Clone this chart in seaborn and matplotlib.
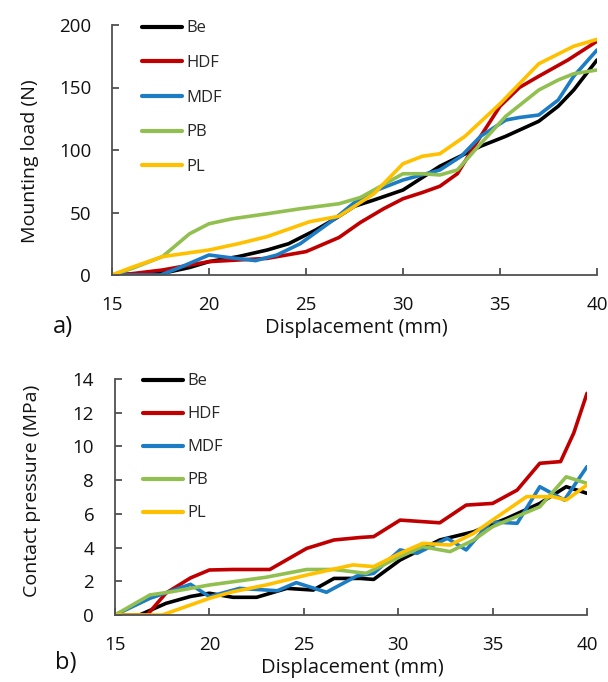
import matplotlib
matplotlib.use("Agg")
import matplotlib.pyplot as plt
import seaborn as sns
import pandas as pd

# ---------------- data ----------------
series_names = ["Be", "HDF", "MDF", "PB", "PL"]
colors = ["#000000", "#C00000", "#1C7CC4", "#92C050", "#FFC000"]

# a) Mounting load (N) vs displacement (mm)
load_be_x = [15, 16, 17, 17.8, 19, 20, 21.5, 23, 24.1, 25.5, 26.5, 27.5, 28.5, 30, 31.9, 34, 35.3, 37, 38, 38.8, 40]
load_be_y = [0, 0.5, 1, 2, 6, 10.7, 14.7, 20, 25, 36, 45, 55, 60, 68, 87, 103, 111, 123, 135, 148, 172]
load_hdf_x = [15, 16, 17.6, 20, 23, 25, 26.7, 27.8, 29, 30, 31, 31.9, 32.8, 34, 35, 36, 37, 38.5, 40]
load_hdf_y = [0, 1, 4, 10.7, 13.3, 18.7, 30, 42, 53, 61, 66, 71, 81, 111, 135, 150, 159, 172, 187]
load_mdf_x = [15, 16, 17.5, 18.5, 20, 21, 22.4, 23.5, 24.7, 26.4, 27.5, 28.5, 30, 31.9, 33, 34, 35.3, 36, 37, 38, 38.8, 40]
load_mdf_y = [0, 0, 0, 6, 16, 14, 11.5, 16, 25, 44, 58, 67, 76, 84, 95, 111, 124, 126, 128, 140, 159, 180]
load_pb_x = [15, 16, 17.6, 19, 20, 21.2, 23, 24.7, 26.7, 27.8, 28.5, 30, 31, 31.9, 32.8, 34, 35.3, 37, 38, 38.8, 40]
load_pb_y = [0, 5, 14.7, 33, 41, 45, 49, 53, 57, 62, 68, 81, 81, 80, 84, 105, 127, 148, 156, 161, 164]
load_pl_x = [15, 16, 17.6, 20, 21.5, 23, 25.2, 26.7, 28.5, 30, 31, 31.9, 33.2, 35, 37, 38.8, 40]
load_pl_y = [0, 6, 14.7, 20, 25, 30.7, 42.7, 47, 65, 89, 95, 97, 111, 137, 169, 183, 188.5]

# b) Contact pressure (MPa) vs displacement (mm)
pres_be_x = [15, 16.3, 17.7, 19, 20, 21.25, 22.5, 24.1, 25.5, 26.6, 28, 28.7, 30.1, 32.2, 34, 35.75, 37.5, 38.9, 40]
pres_be_y = [0, 0, 0.69, 1.1, 1.29, 1.05, 1.05, 1.58, 1.48, 2.17, 2.17, 2.11, 3.26, 4.45, 4.94, 5.73, 6.62, 7.61, 7.22]
pres_hdf_x = [15, 16.7, 17.7, 19, 20, 21.25, 23.2, 25.15, 26.6, 28, 28.7, 30.1, 32.2, 33.6, 35, 36.3, 37.5, 38.6, 39.3, 40]
pres_hdf_y = [0, 0, 1.3, 2.2, 2.67, 2.7, 2.7, 3.95, 4.45, 4.6, 4.65, 5.63, 5.47, 6.52, 6.62, 7.41, 9.0, 9.1, 10.8, 13.15]
pres_mdf_x = [15, 16.85, 19, 20, 21.6, 23.6, 24.6, 26.2, 27.8, 28.7, 30.1, 31, 32.6, 33.6, 34.9, 36.3, 37.5, 38.8, 40]
pres_mdf_y = [0, 0.99, 1.82, 1.09, 1.58, 1.44, 1.92, 1.35, 2.31, 2.47, 3.86, 3.66, 4.55, 3.86, 5.53, 5.44, 7.61, 6.82, 8.8]
pres_pb_x = [15, 16.85, 18, 20, 23, 25.15, 26.6, 28.3, 30.1, 31.3, 32.75, 34, 35, 37.5, 38.9, 40]
pres_pb_y = [0, 1.19, 1.38, 1.78, 2.24, 2.7, 2.7, 2.47, 3.46, 4.05, 3.76, 4.45, 5.24, 6.42, 8.2, 7.81]
pres_pl_x = [15, 17.5, 20, 21.25, 23, 25.15, 27.6, 28.7, 30.1, 31.3, 32.75, 34, 35, 36.8, 38.2, 38.9, 40]
pres_pl_y = [0, 0, 0.99, 1.38, 1.78, 2.37, 2.97, 2.87, 3.66, 4.25, 4.15, 4.85, 5.63, 7.02, 7.02, 6.82, 7.71]

x_ticks = [15, 20, 25, 30, 35, 40]
load_ticks = [0, 50, 100, 150, 200]
pres_ticks = [0, 2, 4, 6, 8, 10, 12, 14]


def long_df(pairs):
    frames = []
    for name, (xs, ys) in zip(series_names, pairs):
        frames.append(pd.DataFrame({"x": xs, "y": ys, "series": name}))
    return pd.concat(frames, ignore_index=True)


df_load = long_df([(load_be_x, load_be_y), (load_hdf_x, load_hdf_y), (load_mdf_x, load_mdf_y),
                   (load_pb_x, load_pb_y), (load_pl_x, load_pl_y)])
df_pres = long_df([(pres_be_x, pres_be_y), (pres_hdf_x, pres_hdf_y), (pres_mdf_x, pres_mdf_y),
                   (pres_pb_x, pres_pb_y), (pres_pl_x, pres_pl_y)])

sns.set_theme(style="ticks")
plt.rcParams["font.family"] = ["Open Sans", "DejaVu Sans"]
axis_col = "#505050"
text_col = "#111111"

W, H = 608, 682
fig = plt.figure(figsize=(W / 100, H / 100), dpi=100)


def make_ax(l, r, t, b):
    return fig.add_axes([l / W, 1 - b / H, (r - l) / W, (b - t) / H])


ax1 = make_ax(112, 597, 25, 275)
ax2 = make_ax(115, 587, 379, 615)

palette = dict(zip(series_names, colors))

configs = [
    # ax, df, ticks, ylabel, ylabel coords, xlabel coords, legend anchor, labelspacing
    (ax1, df_load, load_ticks, "Mounting load (N)", (-0.150, 0.456), (0.504, -0.170), (0.062, 1.018), 1.12),
    (ax2, df_pres, pres_ticks, "Contact pressure (MPa)", (-0.156, 0.525), (0.503, -0.184), (0.059, 1.024), 1.02),
]

for ax, df, yt, ylabel, ylc, xlc, lanchor, lspace in configs:
    sns.lineplot(data=df, x="x", y="y", hue="series", hue_order=series_names, palette=palette,
                 estimator=None, sort=False, linewidth=2.6, ax=ax)
    for ln in ax.get_lines():
        ln.set_solid_joinstyle("round")
        ln.set_solid_capstyle("round")
    ax.set_xlim(15, 40)
    ax.set_ylim(yt[0], yt[-1])
    ax.set_xticks(x_ticks)
    ax.set_yticks(yt)
    ax.set_xticklabels([str(v) for v in x_ticks])
    ax.set_yticklabels([str(v) for v in yt])
    for s in ["top", "right"]:
        ax.spines[s].set_visible(False)
    for s in ["left", "bottom"]:
        ax.spines[s].set_color(axis_col)
        ax.spines[s].set_linewidth(1.3)
    ax.tick_params(axis="both", direction="in", length=5, width=1.3, color=axis_col,
                   labelsize=13.5, labelcolor=text_col)
    ax.tick_params(axis="x", pad=15)
    ax.tick_params(axis="y", pad=15)
    ax.set_xlabel("Displacement (mm)", fontsize=14.5, color=text_col)
    ax.set_ylabel(ylabel, fontsize=14, color=text_col)
    ax.yaxis.set_label_coords(*ylc)
    ax.xaxis.set_label_coords(*xlc)
    ax.set_facecolor("white")
    leg = ax.legend(loc="upper left", bbox_to_anchor=lanchor, frameon=False, fontsize=12,
                    handlelength=2.4, handletextpad=0.25, labelspacing=lspace,
                    borderaxespad=0.0, borderpad=0.0)
    for line in leg.get_lines():
        line.set_linewidth(3)

fig.text(53 / W, 1 - 327 / H, "a)", fontsize=17, ha="left", va="center", color=text_col)
fig.text(55 / W, 1 - 663 / H, "b)", fontsize=17, ha="left", va="center", color=text_col)

fig.savefig("out.png", dpi=100, facecolor="white")
